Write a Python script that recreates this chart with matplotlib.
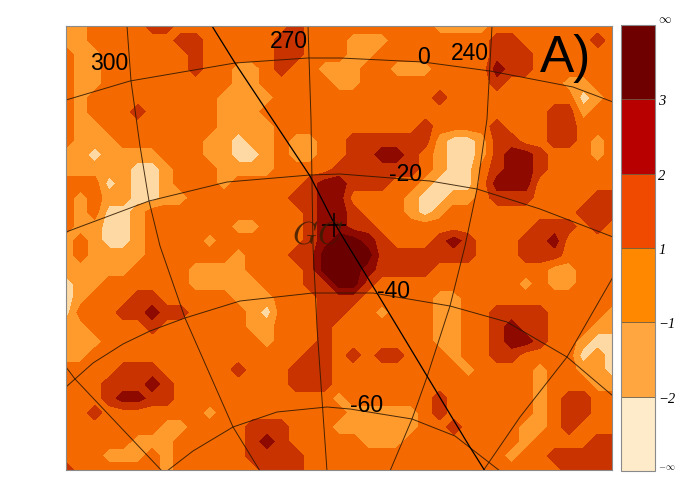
import numpy as np
import matplotlib
matplotlib.use('Agg')
import matplotlib.pyplot as plt
from matplotlib.colors import ListedColormap, BoundaryNorm

plt.rcParams['font.family'] = ['Liberation Sans', 'DejaVu Sans']
plt.rcParams['mathtext.fontset'] = 'cm'

# significance class, 0 = lowest band ... 5 = highest band
# rows run top to bottom, columns left to right
class_rows = [
    "1122223322 2222223222 2222221111 222222222",
    "1122222233 2222233222 1112222222 332222232",
    "2112222223 2222233222 1122222222 333222222",
    "2112222223 2211232211 1221112222 433222222",
    "2112222222 2211222221 1222222222 322221122",
    "2122222222 2111122222 2222223222 222222012",
    "2122232222 2111222222 2222222222 222233122",
    "2112222222 2111122222 2222232222 322233222",
    "2111222222 1101121122 3333331001 332233212",
    "1101111222 1100121122 3344321001 344322212",
    "1111100122 2111122223 3333321002 344322222",
    "2220100122 2122222344 3332210002 444222222",
    "2121100112 2222223344 2222100112 333222233",
    "2120012222 2222222344 3222101222 222222333",
    "2110012222 2211222344 3322222222 222333232",
    "1210012222 1222222345 5432223432 223342222",
    "1211112222 2212223355 5533333332 223332222",
    "1111122221 1112222355 5433332222 222211222",
    "0112222221 1111222335 5322222222 221211222",
    "0122233222 2211122233 3222221122 222222222",
    "0222334332 2221022233 2212221122 333322221",
    "1122223222 2221122232 2222221122 343322211",
    "1112222222 2222122232 2222221122 344322100",
    "1122222222 2222222332 3233222122 332222010",
    "2222333222 2232223332 2222222212 222122110",
    "2223334322 2222223332 2222222222 222122211",
    "2223443322 2222222221 2222223222 222123322",
    "2232222222 1222222222 1111123222 222123322",
    "2222222112 2223332221 1111122322 221123222",
    "2222211122 2223432222 2111222222 221222233",
    "2221112122 2223333222 2222222222 212233333",
    "3222222122 2222333222 2222222222 222223333",
]
map_colors = ['#ffd9a3', '#ff9a2d', '#f46a00', '#c93300', '#8e0a00', '#6b0000']
bar_colors = ['#fdebc9', '#ffa640', '#ff8800', '#f04a00', '#b80000', '#6e0000']
bar_labels = [r'$-\infty$', '\u22122', '\u22121', '1', '2', '3', r'$\infty$']

# graticule in image pixels
lat_0 = [(66, 101), (130, 82), (235, 64), (308, 59), (340, 59), (423, 63), (490, 72), (573, 88), (613, 103)]
lat_20 = [(66, 233), (149, 202), (227, 183), (310, 176), (340, 175), (430, 182), (477, 190), (540, 210), (613, 238)]
lat_40 = [(66, 388), (75, 380), (93, 364), (123, 345), (150, 332), (185, 319), (240, 302), (313, 294), (340, 294),
          (373, 294), (450, 307), (507, 323), (567, 358), (613, 397)]
lat_60 = [(167, 472), (193, 452), (233, 428), (277, 413), (327, 408), (350, 410), (412, 420), (455, 437), (500, 472)]
lon_330 = [(66, 368), (75, 380), (162, 472)]
lon_300 = [(127, 27), (131, 82), (140, 147), (149, 202), (160, 247), (185, 319), (233, 428), (260, 472)]
lon_270 = [(308, 27), (311, 120), (313, 247), (317, 328), (327, 472)]
lon_240 = [(492, 27), (487, 120), (477, 190), (465, 247), (450, 307), (427, 378), (412, 420), (390, 472)]
lon_210 = [(613, 278), (567, 358), (520, 418), (483, 472)]
plane = [(212, 27), (235, 64), (310, 177), (332, 220), (347, 245), (377, 294), (427, 377), (468, 445), (485, 472)]

grid_labels = ['300', '270', '0', '240', '-20', '-40', '-60']
grid_label_pos = [(109, 63), (289, 41), (424, 57), (470, 53), (405, 174), (393, 291), (367, 406)]

field = np.array([[int(c) for c in row.replace(' ', '')] for row in class_rows], dtype=float)

fig = plt.figure(figsize=(6.78, 4.85), dpi=100)
ax = fig.add_axes([66 / 678, 14 / 485, 546 / 678, 444 / 485])

x = np.linspace(66, 612, field.shape[1])
y = np.linspace(27, 471, field.shape[0])
ax.contourf(x, y, field, levels=[-1, 0.5, 1.5, 2.5, 3.5, 4.5, 6], colors=map_colors)

for line in [lat_0, lat_20, lat_40, lat_60, lon_330, lon_300, lon_270, lon_240, lon_210]:
    pts = np.array(line)
    ax.plot(pts[:, 0], pts[:, 1], color='#2a1500', linewidth=0.7, alpha=0.85)
pts = np.array(plane)
ax.plot(pts[:, 0], pts[:, 1], color='black', linewidth=0.9)

ax.plot([334], [226], marker='+', markersize=17, markeredgewidth=1.1, color='black')
ax.text(318, 235, r'$GC$', fontsize=23, color='#3a1c00', alpha=0.85, ha='center', va='center')

for label, pos in zip(grid_labels, grid_label_pos):
    ax.text(pos[0], pos[1], label, fontsize=16.5, color='black', ha='center', va='center')
ax.text(566, 58, 'A)', fontsize=37, color='black', ha='center', va='center')

ax.set_xlim(66, 612)
ax.set_ylim(471, 27)
ax.set_xticks([])
ax.set_yticks([])
for spine in ax.spines.values():
    spine.set_color('#8a8a8a')
    spine.set_linewidth(0.8)

# colour bar with equal steps
cax = fig.add_axes([621 / 678, 13 / 485, 34 / 678, 446 / 485])
bounds = np.arange(len(bar_colors) + 1)
cmap = ListedColormap(bar_colors)
norm = BoundaryNorm(bounds, cmap.N)
cbar = fig.colorbar(plt.cm.ScalarMappable(norm=norm, cmap=cmap), cax=cax, spacing='uniform', drawedges=True)
cbar.dividers.set_color('#6a5a40')
cbar.dividers.set_linewidth(0.6)
cbar.outline.set_edgecolor('#8a8a8a')
cbar.outline.set_linewidth(0.8)
cbar.set_ticks(bounds)
cbar.set_ticklabels(bar_labels)
cax.tick_params(length=0, pad=2.5, labelsize=10.5)
tick_text = cax.get_yticklabels()
for t in tick_text[1:-1]:
    t.set_fontfamily('Liberation Serif')
    t.set_fontstyle('italic')
tick_text[0].set_verticalalignment('bottom')
tick_text[0].set_fontsize(6.5)
tick_text[-1].set_verticalalignment('bottom')
tick_text[-1].set_fontsize(9)

plt.savefig('out.png', dpi=100)
